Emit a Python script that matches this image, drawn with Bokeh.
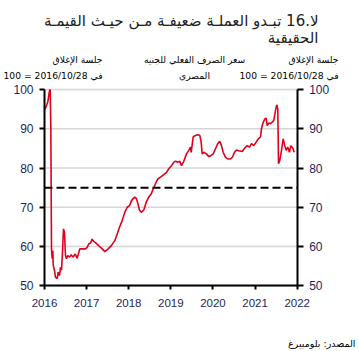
from bokeh.plotting import figure
from bokeh.models import Range1d, LinearAxis, FixedTicker, Label
from bokeh.embed import file_html
from bokeh.resources import INLINE

# ---- data ----
years = [
    2016.000, 2016.031, 2016.078, 2016.119, 2016.135, 2016.150, 2016.166, 2016.183,
    2016.197, 2016.207, 2016.237, 2016.261, 2016.302, 2016.325, 2016.356, 2016.380,
    2016.404, 2016.427, 2016.451, 2016.475, 2016.499, 2016.522, 2016.553, 2016.594,
    2016.634, 2016.681, 2016.729, 2016.776, 2016.838, 2016.895, 2016.973, 2017.014,
    2017.052, 2017.092, 2017.132, 2017.170, 2017.211, 2017.266, 2017.290, 2017.370,
    2017.432, 2017.512, 2017.591, 2017.669, 2017.726, 2017.781, 2017.845, 2017.906,
    2017.963, 2018.018, 2018.066, 2018.106, 2018.144, 2018.184, 2018.215, 2018.255,
    2018.296, 2018.358, 2018.415, 2018.476, 2018.533, 2018.581, 2018.635, 2018.690,
    2018.754, 2018.832, 2018.897, 2018.951, 2019.015, 2019.070, 2019.110, 2019.165,
    2019.212, 2019.253, 2019.307, 2019.371, 2019.426, 2019.466, 2019.483, 2019.530,
    2019.585, 2019.640, 2019.687, 2019.720, 2019.744, 2019.782, 2019.846, 2019.901,
    2019.958, 2020.005, 2020.060, 2020.114, 2020.162, 2020.202, 2020.243, 2020.297,
    2020.352, 2020.416, 2020.463, 2020.511, 2020.558, 2020.613, 2020.694, 2020.755,
    2020.812, 2020.867, 2020.915, 2020.969, 2021.026, 2021.074, 2021.128, 2021.152,
    2021.183, 2021.230, 2021.264, 2021.287, 2021.325, 2021.366, 2021.406, 2021.444,
    2021.484, 2021.515, 2021.539, 2021.548, 2021.556, 2021.586, 2021.627, 2021.667,
    2021.705, 2021.738, 2021.776, 2021.817, 2021.848, 2021.895, 2021.928,
]
index_values = [
    94.9, 95.5, 96.8, 99.7, 100.0, 90.8, 59.4, 56.9,
    59.0, 55.2, 53.9, 52.2, 51.8, 53.5, 52.6, 54.7,
    54.0, 58.5, 64.5, 63.6, 57.7, 56.9, 57.7, 57.3,
    57.9, 57.3, 58.1, 57.0, 59.4, 59.4, 59.4, 59.8,
    60.7, 60.9, 61.9, 61.3, 61.0, 60.4, 60.2, 59.4,
    58.7, 59.4, 60.3, 61.5, 63.2, 64.9, 66.6, 68.7,
    70.0, 70.4, 71.7, 72.2, 72.6, 72.2, 71.0, 69.3,
    68.7, 69.3, 71.3, 72.6, 73.4, 74.7, 76.0, 77.2,
    77.7, 78.3, 78.9, 79.8, 80.6, 81.5, 81.7, 81.5,
    81.7, 80.6, 81.7, 83.6, 84.5, 85.3, 84.0, 87.9,
    88.3, 88.5, 88.3, 86.6, 83.6, 84.0, 83.6, 82.9,
    83.2, 83.6, 84.9, 86.2, 86.8, 85.7, 84.0, 82.8,
    82.3, 82.3, 82.8, 84.0, 84.6, 84.4, 84.2, 85.1,
    85.7, 85.3, 86.2, 85.7, 86.6, 87.4, 87.9, 90.0,
    91.3, 92.5, 92.7, 90.8, 91.5, 91.3, 91.7, 92.1,
    94.6, 96.1, 95.1, 88.3, 81.1, 81.9, 84.5, 87.4,
    85.7, 84.5, 85.3, 84.0, 85.7, 85.1, 84.0,
]
x_ticks = [2016, 2017, 2018, 2019, 2020, 2021, 2022]
y_ticks = [50, 60, 70, 80, 90, 100]
reference_level = 75

title_line1 = "لا.16 تبـدو العملـة ضعيفـة مـن حيـث القيمـة"
title_line2 = "الحقيقية"
axis_note_line1 = "جلسة الإغلاق"
axis_note_line2 = "في 2016/10/28 = 100"
series_name_line1 = "سعر الصرف الفعلي للجنيه"
series_name_line2 = "المصري"
source_text = "المصدر: بلومبيرغ"

# ---- layout geometry (pixels in the 359x351 canvas) ----
W, H = 359, 351
PX_LEFT, PX_RIGHT = 44.0, 296.7
PX_TOP, PX_BOTTOM = 89.0, 285.3
X0, X1 = x_ticks[0], x_ticks[-1]
Y0, Y1 = y_ticks[0], y_ticks[-1]
sx = (PX_RIGHT - PX_LEFT) / (X1 - X0)
sy = (PX_BOTTOM - PX_TOP) / (Y1 - Y0)
x_range = Range1d(X0 - PX_LEFT / sx, X1 + (W - PX_RIGHT) / sx)
y_range = Range1d(Y0 - (H - PX_BOTTOM) / sy, Y1 + PX_TOP / sy)

TICK_COLOR = "#1f1f5c"
ARABIC_FONT = "DejaVu Sans"

p = figure(width=W, height=H, output_backend="svg", toolbar_location=None,
           x_range=x_range, y_range=y_range,
           x_axis_type=None, y_axis_type=None,
           min_border=0, min_border_left=0, min_border_right=0,
           min_border_top=0, min_border_bottom=0)
p.title.visible = False
p.outline_line_color = None
p.background_fill_color = "white"
p.border_fill_color = "white"


def make_axis(ticks, bounds, fixed, tick_out, standoff, size):
    ax = LinearAxis(ticker=FixedTicker(ticks=ticks), bounds=bounds,
                    fixed_location=fixed)
    ax.axis_line_color = "black"
    ax.axis_line_width = 2
    ax.major_tick_line_color = "black"
    ax.major_tick_line_width = 2
    ax.major_tick_out = tick_out
    ax.major_tick_in = 0
    ax.minor_tick_line_color = None
    ax.major_label_text_font = "Liberation Sans"
    ax.major_label_text_font_size = size
    ax.major_label_text_color = TICK_COLOR
    ax.major_label_standoff = standoff
    return ax


# horizontal grid lines at the y ticks, across the plotted years
p.segment(x0=[X0] * len(y_ticks), x1=[X1] * len(y_ticks), y0=y_ticks, y1=y_ticks,
          line_color="#d6d6d6", line_width=1.6)

p.line(years, index_values, line_color="#e0001b", line_width=1.6)

p.line([X0, X1], [reference_level, reference_level], line_color="black",
       line_width=2, line_dash="8 4")

p.add_layout(make_axis(y_ticks, (Y0, Y1), X0, 5, 6, "12px"), "left")
p.add_layout(make_axis(y_ticks, (Y0, Y1), X1, 6, 6, "12px"), "right")
p.add_layout(make_axis(x_ticks, (X0, X1), Y0, 4, 9, "11.5px"), "below")


def add_text(text, cx, cy, size, align, color="black"):
    p.add_layout(Label(x=cx, y=H - cy, x_units="screen", y_units="screen",
                       text=text, text_align=align, text_baseline="alphabetic",
                       text_font=ARABIC_FONT, text_font_size=size,
                       text_color=color))


add_text(title_line1, 318, 20, "15px", "right", "#222222")
add_text(title_line2, 318, 37, "15px", "right", "#222222")
add_text(axis_note_line1, 338, 59, "9.2px", "right")
add_text(axis_note_line2, 338, 75, "9.2px", "right")
add_text(axis_note_line1, 102, 59, "9.2px", "right")
add_text(axis_note_line2, 102, 75, "9.2px", "right")
add_text(series_name_line1, 194, 59, "9.2px", "center")
add_text(series_name_line2, 194, 75, "9.2px", "center")
add_text(source_text, 355, 343, "9.5px", "right")

open("out.html", "w").write(file_html(p, INLINE))
